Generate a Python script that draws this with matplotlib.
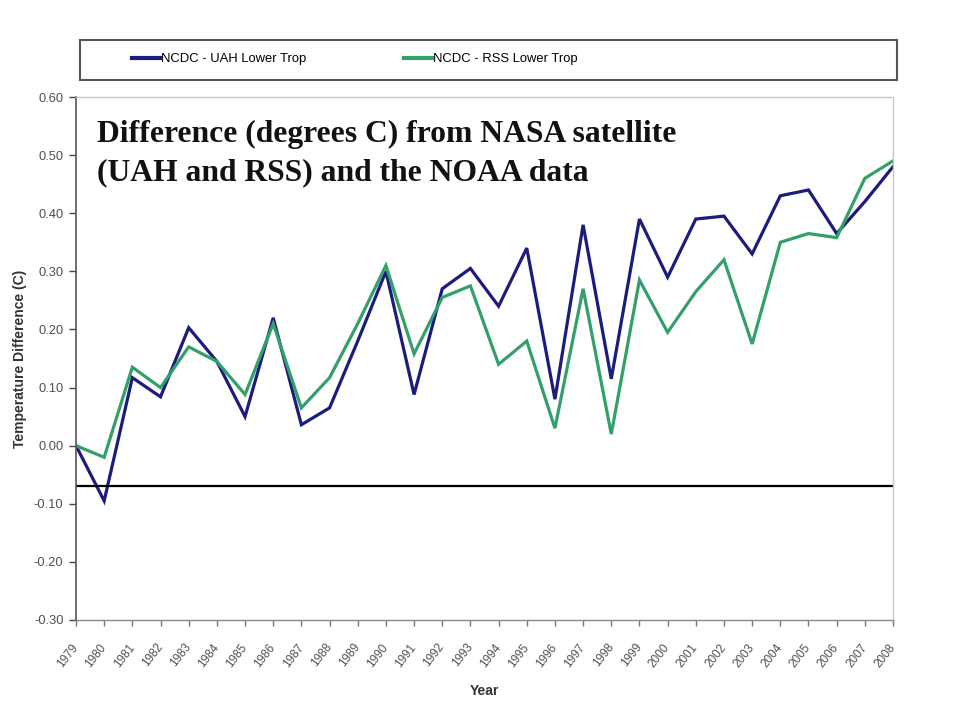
import matplotlib
matplotlib.use("Agg")
import matplotlib.pyplot as plt
from matplotlib.patches import Rectangle
from matplotlib.lines import Line2D

years = list(range(1979, 2009))
uah = [0.00, -0.095, 0.117, 0.084, 0.203, 0.145, 0.050, 0.220, 0.036, 0.065,
       0.180, 0.300, 0.088, 0.270, 0.305, 0.240, 0.340, 0.080, 0.380, 0.115,
       0.390, 0.290, 0.390, 0.395, 0.330, 0.430, 0.440, 0.365, 0.420, 0.480]
rss = [0.00, -0.020, 0.135, 0.100, 0.170, 0.145, 0.088, 0.210, 0.065, 0.117,
       0.210, 0.310, 0.158, 0.255, 0.275, 0.140, 0.180, 0.030, 0.270, 0.020,
       0.285, 0.195, 0.265, 0.320, 0.175, 0.350, 0.365, 0.358, 0.460, 0.490]
ref_level = -0.07
yticks = [0.60, 0.50, 0.40, 0.30, 0.20, 0.10, 0.00, -0.10, -0.20, -0.30]
series_names = ["NCDC - UAH Lower Trop", "NCDC - RSS Lower Trop"]
title_lines = ["Difference (degrees C) from NASA satellite",
               "(UAH and RSS) and the NOAA data"]

blue = "#1c1c7c"
green = "#33a06a"
sans = "Liberation Sans"

fig = plt.figure(figsize=(9.6, 7.2), dpi=100)
W, H = 960, 720
L, R, T, B = 76, 893, 97, 620
ax = fig.add_axes([L / W, 1 - B / H, (R - L) / W, (B - T) / H])

ax.plot(years, uah, color=blue, lw=2.3, solid_joinstyle="miter")
ax.plot(years, rss, color=green, lw=2.3, solid_joinstyle="miter")
ax.axhline(ref_level, color="black", lw=1.6)

ax.set_xlim(years[0], years[-1])
ax.set_ylim(-0.30, 0.60)
ax.set_yticks(yticks)
ax.set_yticklabels([f"{v:.2f}" for v in yticks], fontsize=9.3,
                   color="#505050", family=sans)
ax.set_xticks(years)
ax.set_xticklabels([str(y) for y in years], rotation=52, ha="right",
                   va="center", rotation_mode="anchor", fontsize=8.5,
                   color="#505050", family=sans)
ax.tick_params(axis="y", direction="out", length=5, width=1, color="#444444", pad=4)
ax.tick_params(axis="x", direction="out", length=4, width=1, color="#777777", pad=14)

for s in ["top", "right"]:
    ax.spines[s].set_color("#c8c8c8")
    ax.spines[s].set_linewidth(1)
ax.spines["bottom"].set_color("#888888")
ax.spines["bottom"].set_linewidth(1)
ax.spines["left"].set_color("#555555")
ax.spines["left"].set_linewidth(1.2)

ax.set_ylabel("Temperature Difference (C)", fontsize=10, fontweight="bold",
              color="#333333", family=sans)
ax.yaxis.set_label_coords(-(L - 27) / (R - L), 0.5)
ax.set_xlabel("Year", fontsize=10, fontweight="bold", color="#333333",
              family=sans)
ax.xaxis.set_label_coords((484 - L) / (R - L), -(684 - B) / (B - T))

for txt, yy in zip(title_lines, [134, 173]):
    ax.text(97 / W, 1 - yy / H, txt, transform=fig.transFigure,
            fontsize=22.8, fontweight="bold", family="Liberation Serif",
            va="center", ha="left", color="#111111")

# legend box
box = Rectangle((80 / W, 1 - 80 / H), (897 - 80) / W, 40 / H,
                transform=fig.transFigure, facecolor="white",
                edgecolor="#555555", lw=1.5, zorder=0)
fig.patches.append(box)
handles = [Line2D([], [], color=blue, lw=3), Line2D([], [], color=green, lw=3)]
fig.legend(handles, series_names, loc="center left",
           bbox_to_anchor=(120 / W, 1 - 59 / H), ncol=2, frameon=False,
           handlelength=2.2, handletextpad=0.05, columnspacing=7.5,
           prop={"family": sans, "size": 9.35})

fig.savefig("out.png", dpi=100)
